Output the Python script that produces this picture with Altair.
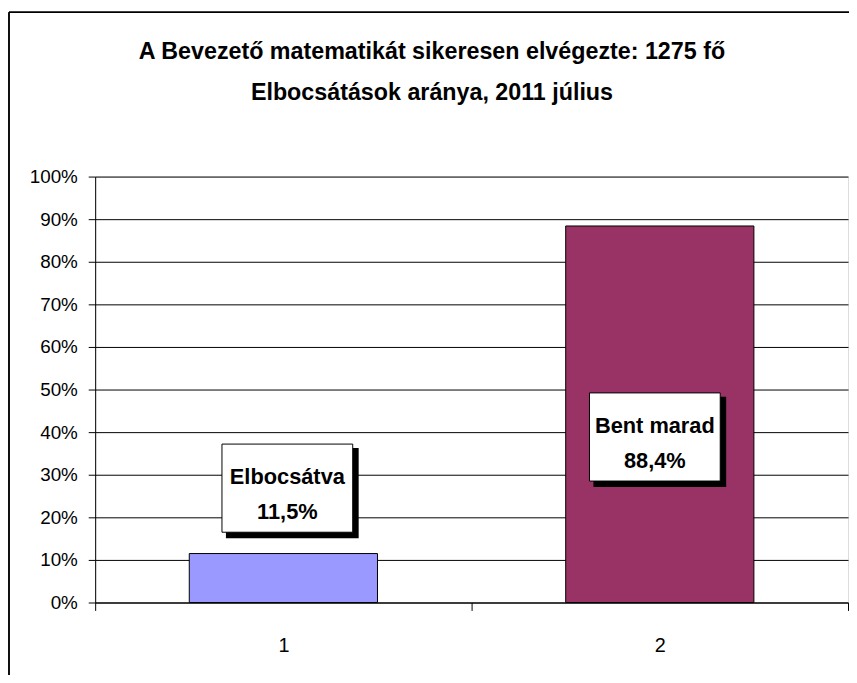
import altair as alt
import pandas as pd

categories = ["1", "2"]
values = [0.115, 0.884]
label_names = ["Elbocsátva", "Bent marad"]
bar_colors = ["#9999FF", "#993366"]
title_lines = ["A Bevezető matematikát sikeresen elvégezte: 1275 fő",
               "Elbocsátások aránya, 2011 július"]
y_ticks = [i / 10 for i in range(11)]

FONT = "Liberation Sans, Arial, sans-serif"

df = pd.DataFrame({
    "cat": categories,
    "value": values,
    "name": label_names,
    "label": [n + "\n" + f"{v*100:.1f}".replace(".", ",") + "%" for n, v in zip(label_names, values)],
})

x_enc = alt.X("cat:N", sort=categories,
              scale=alt.Scale(paddingInner=0, paddingOuter=0),
              axis=alt.Axis(title=None, labelAngle=0, tickBand="extent", grid=False,
                            labelFontSize=20, labelFont=FONT, labelColor="black",
                            labelPadding=25, tickSize=8, tickColor="black",
                            domainColor="black"))
y_enc = alt.Y("value:Q",
              scale=alt.Scale(domain=[0, 1], nice=False),
              axis=alt.Axis(title=None, values=y_ticks, format=".0%",
                            labelFontSize=19, labelFont=FONT, labelColor="black",
                            labelPadding=11, tickSize=7, tickColor="black",
                            domainColor="black", grid=True, gridColor="black",
                            gridOpacity=1, gridWidth=1))

base = alt.Chart(df)

bars = base.mark_bar(width=alt.RelativeBandSize(0.5), stroke="black", strokeWidth=1).encode(
    x=x_enc,
    y=y_enc,
    color=alt.Color("cat:N", scale=alt.Scale(domain=categories, range=bar_colors), legend=None),
)

BOX = "M-1,-0.674L1,-0.674L1,0.674L-1,0.674Z"


def label_layers(cat, dx, dy):
    sub = base.transform_filter(alt.datum.cat == cat)
    shadow = sub.mark_point(shape=BOX, size=17424, filled=True, fill="black",
                            stroke="black", opacity=1,
                            xOffset=dx + 5, yOffset=dy + 5).encode(
        x=alt.X("cat:N", sort=categories), y="value:Q")
    box = sub.mark_point(shape=BOX, size=17424, filled=True, fill="white",
                         stroke="black", strokeWidth=1, opacity=1,
                         xOffset=dx, yOffset=dy).encode(
        x=alt.X("cat:N", sort=categories), y="value:Q")
    txt = sub.mark_text(font=FONT, fontSize=22, fontWeight="bold", color="black",
                        lineBreak="\n", lineHeight=35, baseline="middle",
                        xOffset=dx, yOffset=dy - 11).encode(
        x=alt.X("cat:N", sort=categories), y="value:Q", text="label:N")
    return [shadow, box, txt]


left_border = base.mark_rule(color="black", strokeWidth=1.5).encode(
    x=alt.value(-87), y=alt.value(-166), y2=alt.value(520))
top_border = base.mark_rule(color="black", strokeWidth=1.5).encode(
    x=alt.value(-87), x2=alt.value(800), y=alt.value(-166))

chart = alt.layer(
    bars,
    *label_layers("1", 4, -66),
    *label_layers("2", -5, 213),
    left_border, top_border,
).properties(
    width=760, height=430,
    title=alt.TitleParams(text=title_lines, fontSize=23.5, font=FONT, fontWeight="bold",
                          color="black", lineHeight=41, anchor="middle", frame="group",
                          dx=-40, offset=-94),
    autosize=alt.AutoSizeParams(type="none"),
    padding={"left": 88, "top": 167, "right": 1, "bottom": 70},
).configure_view(stroke="black", strokeWidth=1).configure(background="white")

chart.save("out.html", embed_options={"renderer": "svg", "actions": False})
